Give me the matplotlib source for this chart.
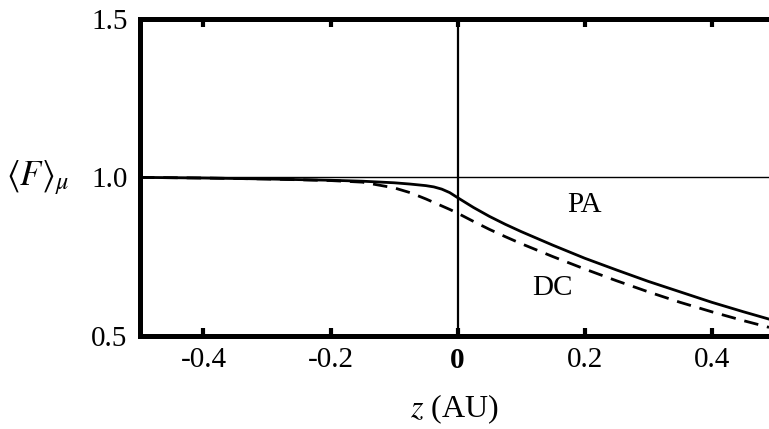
"""Mean flux factor <F>_mu against z for the PA and DC cases."""

import numpy as np
import matplotlib
matplotlib.use("Agg")
import matplotlib.pyplot as plt

plt.rcParams["font.family"] = ["Liberation Serif", "DejaVu Serif"]
plt.rcParams["mathtext.fontset"] = "stix"

# values
z = [-0.5, -0.4, -0.3, -0.2, -0.15, -0.1, -0.075, -0.05, -0.0375, -0.025,
     -0.0125, 0.0, 0.025, 0.05, 0.075, 0.1, 0.15, 0.2, 0.25, 0.3, 0.35, 0.4,
     0.45, 0.49]
f_pa = [1.0, 0.998, 0.995, 0.991, 0.988, 0.983, 0.979, 0.974, 0.970, 0.963,
        0.952, 0.936, 0.905, 0.877, 0.852, 0.829, 0.786, 0.745, 0.708, 0.672,
        0.639, 0.606, 0.576, 0.553]
f_dc = [1.0, 0.998, 0.995, 0.99, 0.985, 0.967, 0.952, 0.932, 0.921, 0.91,
        0.899, 0.887, 0.861, 0.836, 0.813, 0.791, 0.75, 0.711, 0.674, 0.639,
        0.606, 0.576, 0.548, 0.527]

x_ticks = [-0.4, -0.2, 0.0, 0.2, 0.4]
x_labels = ["-0.4", "-0.2", "0", "0.2", "0.4"]
y_ticks = [0.5, 1.0, 1.5]
y_labels = ["0.5", "1.0", "1.5"]


def main():
    fig = plt.figure(figsize=(7.69, 4.29), dpi=100)
    ax = fig.add_axes([0.182, 0.217, 0.818, 0.739])

    ax.axhline(1.0, color="black", lw=1.0, zorder=1)
    ax.axvline(0.0, color="black", lw=1.6, zorder=1)

    ax.plot(z, f_pa, color="black", lw=2.0, solid_joinstyle="round")
    ax.plot(z, f_dc, color="black", lw=2.0, dashes=(5.2, 3.2))

    ax.text(0.2, 0.913, "PA", fontsize=21, ha="center", va="center")
    ax.text(0.149, 0.651, "DC", fontsize=21, ha="center", va="center")

    ax.set_xlim(-0.5, 0.49)
    ax.set_ylim(0.5, 1.5)

    for side in ("left", "bottom", "top"):
        ax.spines[side].set_linewidth(3.6)
    ax.spines["right"].set_visible(False)

    ax.set_xticks(x_ticks)
    ax.set_xticklabels(x_labels)
    ax.get_xticklabels()[2].set_fontweight("bold")
    ax.set_yticks(y_ticks)
    ax.set_yticklabels(y_labels)
    ax.tick_params(axis="x", which="both", direction="in", top=True,
                   length=6, width=3, labelsize=21, pad=8)
    ax.tick_params(axis="y", which="both", length=0, labelsize=21, pad=9)

    ax.set_xlabel("$z$ (AU)", fontsize=23, labelpad=13)
    fig.text(0.008, 1 - 178 / 429, r"$\langle F\rangle_\mu$", fontsize=25,
             ha="left", va="center")

    fig.savefig("out.png", dpi=100)


if __name__ == "__main__":
    main()
